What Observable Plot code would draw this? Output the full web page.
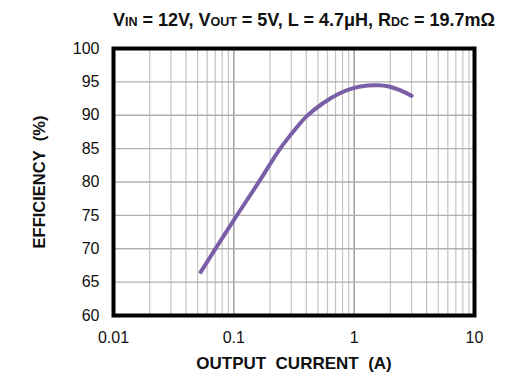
<!DOCTYPE html>
<html>
<head>
<meta charset="utf-8">
<script src="https://cdn.jsdelivr.net/npm/d3@7"></script>
<script src="https://cdn.jsdelivr.net/npm/@observablehq/plot@0.6"></script>
<style>
  body { margin: 0; background: #fff; font-family: "Liberation Sans", Arial, sans-serif; }
  #wrap { position: relative; width: 521px; height: 390px; }
  #chart { position: absolute; left: 0; top: 0; }
  #title { position: absolute; left: 0; width: 521px; top: 10px; text-align: center; padding-left: 87px; box-sizing: border-box;
           font-weight: bold; font-size: 18px; line-height: 20px; color: #111; white-space: nowrap; z-index: 2; }
  #title .s { font-size: 12.5px; }
</style>
</head>
<body>
<div id="wrap">
  <div id="chart"></div>
  <div id="title">V<span class="s">IN</span> = 12V, V<span class="s">OUT</span> = 5V, L = 4.7μH, R<span class="s">DC</span> = 19.7mΩ</div>
</div>
<script>
const current = [0.053, 0.1, 0.16, 0.234, 0.28, 0.32, 0.4, 0.55, 0.76, 1.0, 1.3, 1.6, 1.9, 2.4, 3.0];
const efficiency = [66.5, 74.3, 79.9, 84.6, 86.5, 87.8, 89.8, 91.8, 93.3, 94.1, 94.45, 94.5, 94.35, 93.75, 92.9];
const xTicks = [0.01, 0.1, 1, 10];
const xTickLabels = ["0.01", "0.1", "1", "10"];
const yTicks = [60, 65, 70, 75, 80, 85, 90, 95, 100];
const xMinorGrid = [0.02,0.03,0.04,0.05,0.06,0.07,0.08,0.09,0.2,0.3,0.4,0.5,0.6,0.7,0.8,0.9,2,3,4,5,6,7,8,9];
const xMajorGrid = [0.1, 1];

const data = current.map((c, i) => ({current: c, efficiency: efficiency[i]}));

const chart = Plot.plot({
  width: 521,
  height: 390,
  marginTop: 48,
  marginBottom: 75,
  marginLeft: 113,
  marginRight: 47,
  style: {fontFamily: "Liberation Sans, Arial, sans-serif", fontSize: "16px", color: "#111", background: "white"},
  x: {type: "log", domain: [0.01, 10]},
  y: {domain: [60, 100]},
  marks: [
    Plot.ruleX(xMinorGrid, {stroke: "#c4c4c4", strokeWidth: 1.2}),
    Plot.ruleX(xMajorGrid, {stroke: "#999", strokeWidth: 1.4}),
    Plot.ruleY(yTicks, {stroke: "#b0b0b0", strokeWidth: 1.4}),
    Plot.axisX(xTicks, {tickSize: 0, tickPadding: 16, fontSize: 16, tickFormat: (d) => xTickLabels[xTicks.indexOf(d)],
      label: "OUTPUT\u00a0\u00a0CURRENT\u00a0\u00a0(A)", labelAnchor: "center", labelArrow: "none", labelOffset: 53}),
    Plot.axisY(yTicks, {tickSize: 0, tickPadding: 14, fontSize: 16, label: null}),
    Plot.line(data, {x: "current", y: "efficiency", stroke: "#7a5fa6", strokeWidth: 4, curve: "catmull-rom", strokeLinecap: "round"}),
    Plot.frame({stroke: "black", strokeWidth: 4}),
    Plot.text(["EFFICIENCY\u00a0\u00a0(%)"], {frameAnchor: "left", textAnchor: "middle", dx: -74, rotate: -90, fontWeight: "bold", fontSize: 16.5, fill: "#111"})
  ]
});
document.getElementById("chart").appendChild(chart);
chart.querySelectorAll("g[aria-label='x-axis label'] text").forEach(t => { t.setAttribute("font-weight", "bold"); t.setAttribute("font-size", "17"); });
</script>
</body>
</html>
